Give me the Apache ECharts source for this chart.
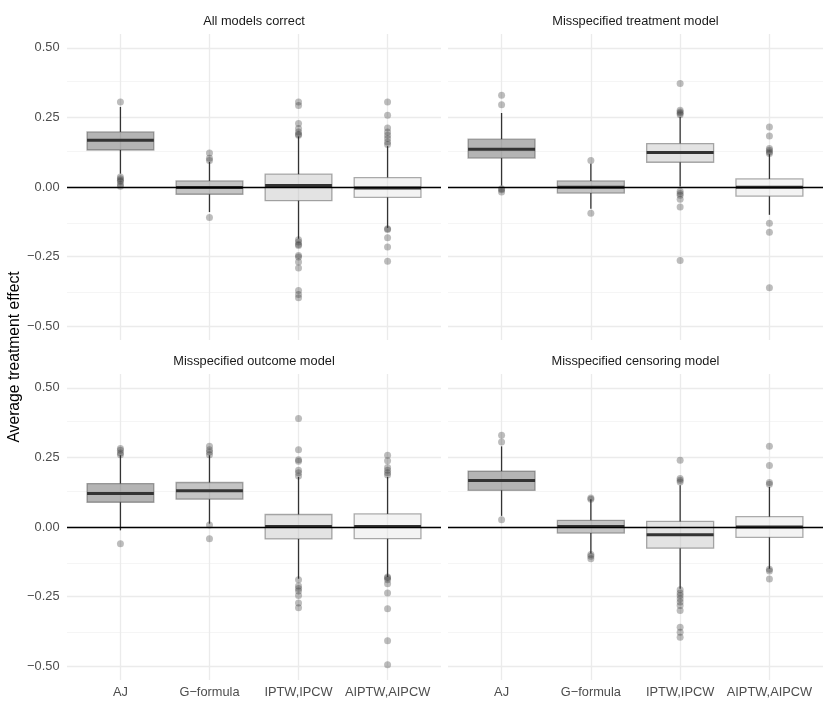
<!DOCTYPE html>
<html lang="en">
<head>
    <meta charset="UTF-8">
    <title>Average treatment effect</title>
    <script src="https://cdn.jsdelivr.net/npm/echarts@6/dist/echarts.min.js"></script>
    <style>
        body, html {
            margin: 0;
            width: 100%;
            height: 100%;
            background: #fff;
        }
        #chart {
            width: 830px;
            height: 727px;
        }
    </style>
</head>
<body>
<div id="chart"></div>
</body>
</html>

<script>

    // data
    let methods = ["AJ", "G\u2212formula", "IPTW,IPCW", "AIPTW,AIPCW"];
    let panels = ["All models correct", "Misspecified treatment model",
        "Misspecified outcome model", "Misspecified censoring model"];
    let yTicks = [-0.5, -0.25, 0, 0.25, 0.5];
    let yMinor = [-0.375, -0.125, 0.125, 0.375];

    // [lower whisker, Q1, median, Q3, upper whisker] per method
    let correctBoxes = [
        [0.048, 0.133, 0.168, 0.198, 0.288],
        [-0.09, -0.026, -0.002, 0.022, 0.09],
        [-0.186, -0.049, 0.005, 0.046, 0.182],
        [-0.147, -0.037, -0.004, 0.034, 0.147]
    ];
    let correctOutliers = [
        [0.306, 0.036, 0.03, 0.024, 0.02, 0.009, 0.003],
        [0.122, 0.103, 0.095, -0.11],
        [0.306, 0.293, 0.228, 0.21, 0.198, 0.19, 0.186, -0.19, -0.198, -0.207, -0.21, -0.246, -0.252, -0.27, -0.291, -0.372, -0.386, -0.398],
        [0.306, 0.258, 0.212, 0.198, 0.186, 0.174, 0.162, 0.153, -0.15, -0.153, -0.182, -0.216, -0.267]
    ];

    let treatmentBoxes = [
        [0.005, 0.104, 0.136, 0.172, 0.266],
        [-0.078, -0.022, -0.001, 0.022, 0.084],
        [0.002, 0.089, 0.124, 0.156, 0.252],
        [-0.1, -0.033, -0.001, 0.029, 0.118]
    ];
    let treatmentOutliers = [
        [0.33, 0.296, -0.006, -0.01, -0.018],
        [0.095, -0.094],
        [0.372, 0.276, 0.27, 0.265, 0.26, -0.015, -0.023, -0.03, -0.044, -0.072, -0.264],
        [0.216, 0.183, 0.138, 0.132, 0.126, 0.12, -0.13, -0.163, -0.362]
    ];

    let outcomeBoxes = [
        [-0.012, 0.089, 0.12, 0.156, 0.258],
        [0.012, 0.1, 0.13, 0.16, 0.258],
        [-0.186, -0.043, 0.002, 0.045, 0.18],
        [-0.18, -0.042, 0.002, 0.047, 0.18]
    ];
    let outcomeOutliers = [
        [0.282, 0.276, 0.266, 0.26, -0.06],
        [0.29, 0.278, 0.27, 0.26, 0.007, -0.042],
        [0.39, 0.278, 0.242, 0.236, 0.204, 0.195, 0.183, -0.19, -0.212, -0.221, -0.23, -0.246, -0.273, -0.29],
        [0.258, 0.238, 0.214, 0.204, 0.195, 0.187, -0.18, -0.183, -0.19, -0.204, -0.237, -0.294, -0.409, -0.495]
    ];

    let censoringBoxes = [
        [0.04, 0.132, 0.167, 0.201, 0.29],
        [-0.095, -0.022, 0.002, 0.024, 0.1],
        [-0.222, -0.076, -0.028, 0.02, 0.15],
        [-0.15, -0.037, 0.0, 0.037, 0.144]
    ];
    let censoringOutliers = [
        [0.33, 0.306, 0.026],
        [0.104, 0.1, -0.099, -0.105, -0.114],
        [0.24, 0.174, 0.168, 0.162, -0.226, -0.237, -0.246, -0.258, -0.27, -0.282, -0.3, -0.36, -0.378, -0.396],
        [0.29, 0.221, 0.16, 0.154, -0.152, -0.158, -0.187]
    ];

    let allBoxes = [correctBoxes, treatmentBoxes, outcomeBoxes, censoringBoxes];
    let allOutliers = [correctOutliers, treatmentOutliers, outcomeOutliers, censoringOutliers];

    // styles
    let boxFills = ["rgba(67,67,67,0.4)", "rgba(107,107,107,0.4)", "rgba(185,185,185,0.4)", "rgba(225,225,225,0.4)"];
    let font = "Liberation Sans, Arial, sans-serif";
    let gridPos = [
        {left: 67, top: 34, width: 374, height: 306},
        {left: 448, top: 34, width: 375, height: 306},
        {left: 67, top: 374, width: 374, height: 306},
        {left: 448, top: 374, width: 375, height: 306}
    ];

    function minus(v) {
        return v.toFixed(2).replace("-", "\u2212");
    }

    function renderBox(params, api) {
        let x = api.value(0);
        let lo = api.coord([x, api.value(1)]);
        let q1 = api.coord([x, api.value(2)]);
        let med = api.coord([x, api.value(3)]);
        let q3 = api.coord([x, api.value(4)]);
        let hi = api.coord([x, api.value(5)]);
        let half = api.size([0.75, 0])[0] / 2;
        let cx = q1[0];
        let whisker = {stroke: "#333", lineWidth: 1.3};
        return {
            type: "group",
            children: [
                {type: "line", shape: {x1: cx, y1: q3[1], x2: cx, y2: hi[1]}, style: whisker},
                {type: "line", shape: {x1: cx, y1: q1[1], x2: cx, y2: lo[1]}, style: whisker},
                {
                    type: "rect",
                    shape: {x: cx - half, y: q3[1], width: half * 2, height: q1[1] - q3[1]},
                    style: {fill: boxFills[params.dataIndex], stroke: "rgba(51,51,51,0.4)", lineWidth: 1.3}
                },
                {type: "line", shape: {x1: cx - half, y1: med[1], x2: cx + half, y2: med[1]},
                    style: {stroke: "#333", lineWidth: 3}}
            ]
        };
    }

    let options = {
        backgroundColor: "#fff",
        animation: false,
        grid: [], xAxis: [], yAxis: [], series: [],
        graphic: []
    };

    for (let p = 0; p < 4; p++) {
        let bottom = p >= 2, left = p % 2 === 0;
        options.grid.push(gridPos[p]);
        options.xAxis.push({
            type: "value", gridIndex: p, min: 0.4, max: 4.6,
            axisLine: {show: false}, axisTick: {show: false}, splitLine: {show: false},
            axisLabel: {
                show: bottom, customValues: [1, 2, 3, 4], margin: 6,
                color: "#4d4d4d", fontSize: 12.8, fontFamily: font,
                formatter: function (v) { return methods[Math.round(v) - 1]; }
            }
        });
        options.yAxis.push({
            type: "value", gridIndex: p, min: -0.55, max: 0.55,
            axisLine: {show: false}, axisTick: {show: false}, splitLine: {show: false},
            axisLabel: {
                show: left, customValues: yTicks, margin: 7.5,
                color: "#4d4d4d", fontSize: 12.8, fontFamily: font,
                formatter: minus
            }
        });

        let gridLines = [];
        yMinor.forEach(v => gridLines.push({yAxis: v, lineStyle: {color: "#f2f2f2", width: 0.8}}));
        yTicks.forEach(v => gridLines.push({yAxis: v, lineStyle: {color: "#ebebeb", width: 1.3}}));
        methods.forEach((m, i) => gridLines.push({xAxis: i + 1, lineStyle: {color: "#ebebeb", width: 1.3}}));

        options.series.push({
            type: "scatter", xAxisIndex: p, yAxisIndex: p, data: [], z: 0,
            markLine: {
                z: 0, silent: true, symbol: "none", label: {show: false},
                lineStyle: {type: "solid"}, data: gridLines
            }
        });

        options.series.push({
            type: "custom", xAxisIndex: p, yAxisIndex: p, z: 2,
            renderItem: renderBox,
            encode: {x: 0, y: [1, 2, 3, 4, 5]},
            data: allBoxes[p].map((b, i) => [i + 1].concat(b))
        });

        let pts = [];
        allOutliers[p].forEach((vals, i) => vals.forEach(v => pts.push([i + 1, v])));
        options.series.push({
            type: "scatter", xAxisIndex: p, yAxisIndex: p, z: 3,
            symbolSize: 7,
            itemStyle: {color: "rgba(51,51,51,0.4)"},
            data: pts,
            markLine: {
                z: 5, silent: true, symbol: "none", label: {show: false},
                lineStyle: {type: "solid", color: "#000", width: 1.3},
                data: [{yAxis: 0}]
            }
        });

        options.graphic.push({
            type: "text",
            x: gridPos[p].left + gridPos[p].width / 2,
            y: gridPos[p].top - 13,
            style: {
                text: panels[p], fill: "#1a1a1a", font: "12.8px " + font,
                textAlign: "center", textVerticalAlign: "middle"
            }
        });
    }

    options.graphic.push({
        type: "text", x: 15, y: 357, rotation: Math.PI / 2,
        style: {
            text: "Average treatment effect", fill: "#000", font: "15.7px " + font,
            textAlign: "center", textVerticalAlign: "middle"
        }
    });

    let chart = echarts.init(document.getElementById("chart"));
    chart.setOption(options);

    window.addEventListener("resize", function () {
        chart.resize();
    });

</script>
